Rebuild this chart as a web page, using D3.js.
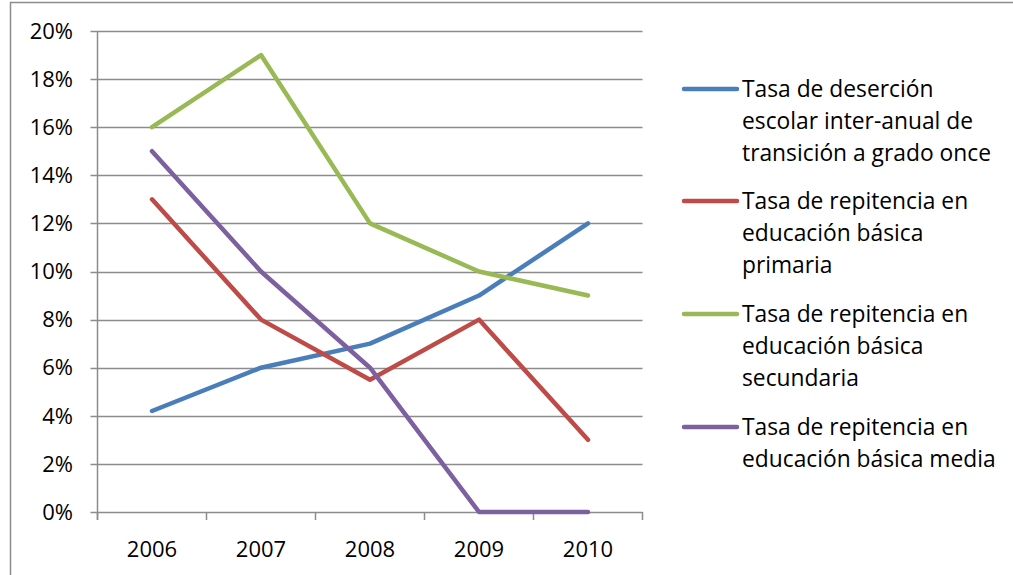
<!DOCTYPE html>
<html><head><meta charset="utf-8">
<script src="https://cdn.jsdelivr.net/npm/d3@7"></script>
<style>body{margin:0;background:#fff}svg{display:block}text{font-family:"Open Sans",sans-serif;fill:#000}</style>
</head><body><svg id="c" width="1013" height="575"></svg>
<script>
const years = ["2006","2007","2008","2009","2010"];
const desercion = [4.2, 6, 7, 9, 12];
const primaria = [13, 8, 5.5, 8, 3];
const secundaria = [16, 19, 12, 10, 9];
const media = [15, 10, 6, 0, 0];
const yTicks = [0,2,4,6,8,10,12,14,16,18,20];
const seriesNames = [
  ["Tasa de deserción","escolar inter-anual de","transición a grado once"],
  ["Tasa de repitencia en","educación básica","primaria"],
  ["Tasa de repitencia en","educación básica","secundaria"],
  ["Tasa de repitencia en","educación básica media"]
];
const colors = ["#4a7ebb","#be4b48","#98b954","#7d60a0"];
const seriesValues = [desercion, primaria, secundaria, media];

const svg = d3.select("#c");
svg.append("rect").attr("x",10.5).attr("y",2.5).attr("width",1010).attr("height",580)
  .attr("fill","none").attr("stroke","#8c8c8c").attr("stroke-width",1.5);

const L=97.5, R=642.5, T=31, B=512;
const x = d3.scaleBand().domain(years).range([L,R]);
const y = d3.scaleLinear().domain([0,20]).range([B,T]);

svg.append("g").selectAll("line").data(yTicks).join("line")
  .attr("x1",L-7).attr("x2",R).attr("y1",d=>Math.round(y(d))+0.5).attr("y2",d=>Math.round(y(d))+0.5)
  .attr("stroke","#8c8c8c").attr("stroke-width",1.5);
svg.append("line").attr("x1",L).attr("x2",L).attr("y1",T).attr("y2",B+8).attr("stroke","#8c8c8c").attr("stroke-width",1.5);
const xt = years.map(d=>x(d)).concat([R]);
svg.append("g").selectAll("line").data(xt).join("line")
  .attr("x1",d=>d).attr("x2",d=>d).attr("y1",B).attr("y2",B+8).attr("stroke","#8c8c8c").attr("stroke-width",1.5);

svg.append("g").selectAll("text").data(yTicks).join("text")
  .attr("x",73).attr("y",d=>y(d)).attr("dy","0.35em").attr("text-anchor","end")
  .style("font-size","22px").text(d=>d+"%");
svg.append("g").selectAll("text").data(years).join("text")
  .attr("x",d=>x(d)+x.bandwidth()/2).attr("y",549).attr("dy","0.35em").attr("text-anchor","middle")
  .style("font-size","22px").text(d=>d);

const line = d3.line().x((d,i)=>x(years[i])+x.bandwidth()/2).y(d=>y(d));
seriesValues.forEach((vals,k)=>{
  svg.append("path").attr("d",line(vals)).attr("fill","none").attr("stroke",colors[k])
    .attr("stroke-width",4.5).attr("stroke-linecap","round").attr("stroke-linejoin","round");
});

const legY = [89, 201, 314, 427];
seriesNames.forEach((lines,k)=>{
  const g = svg.append("g");
  g.append("line").attr("x1",684).attr("x2",737).attr("y1",legY[k]).attr("y2",legY[k])
    .attr("stroke",colors[k]).attr("stroke-width",4.5).attr("stroke-linecap","round");
  lines.forEach((t,j)=>{
    g.append("text").attr("x",742).attr("y",legY[k]+j*32).attr("dy","0.35em")
      .style("font-size","22.8px").text(t);
  });
});
</script></body></html>
